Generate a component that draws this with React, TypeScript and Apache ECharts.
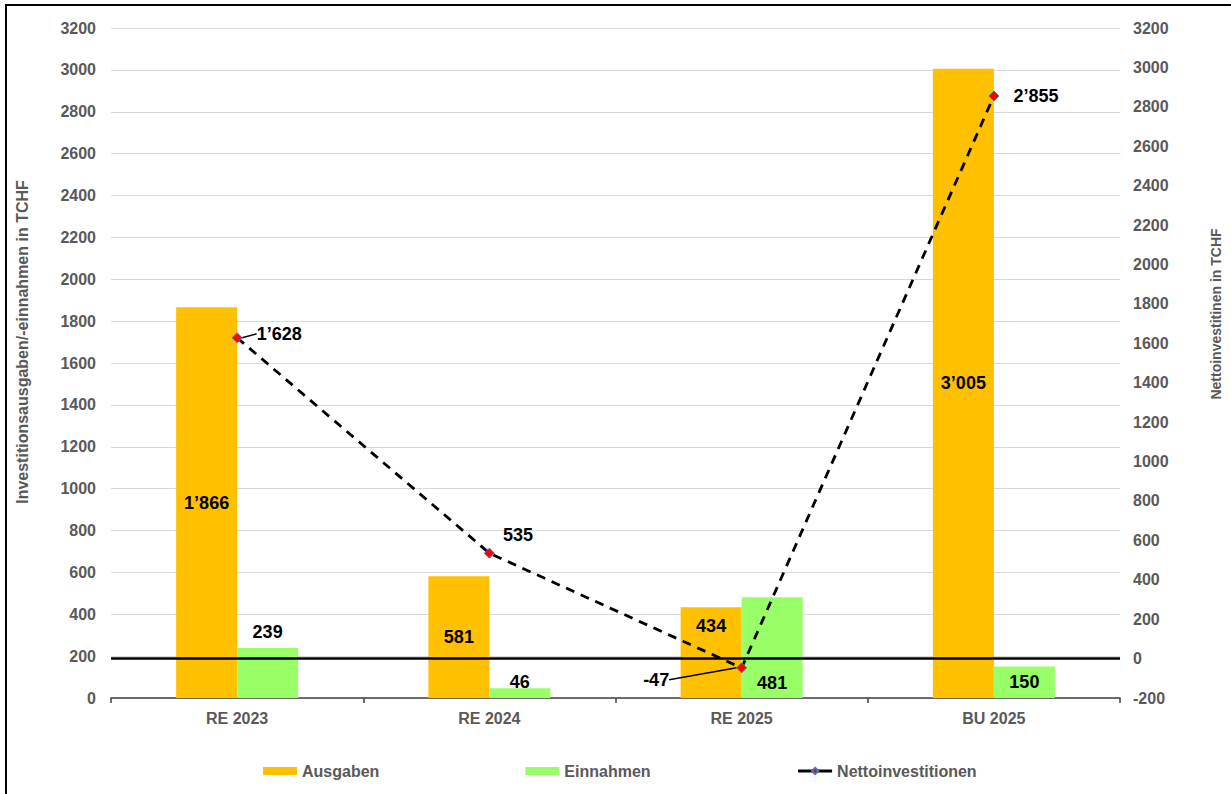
import React, { useEffect, useRef } from "react";
import * as echarts from "echarts";

const categories = ["RE 2023", "RE 2024", "RE 2025", "BU 2025"];
const ausgaben = [1866, 581, 434, 3005];
const einnahmen = [239, 46, 481, 150];
const netto = [1628, 535, -47, 2855];
const leftTicks = { min: 0, max: 3200, interval: 200 };
const rightTicks = { min: -200, max: 3200, interval: 200 };

const FONT = '"Liberation Sans", Arial, sans-serif';
const GRAY = "#595959";

function fmt(n: number): string {
  const s = Math.abs(n).toString().replace(/\B(?=(\d{3})+(?!\d))/g, "\u2019");
  return (n < 0 ? "-" : "") + s;
}

const dataLabel = {
  show: true,
  fontFamily: FONT,
  fontWeight: "bold" as const,
  fontSize: 18,
  color: "#000",
  formatter: (p: any) => fmt(p.value),
};

const ausgabenPos: any[] = [
  { position: "inside" },
  { position: "inside" },
  { position: "insideTop", distance: 10 },
  { position: "inside" },
];
const einnahmenPos: any[] = [
  { position: "top", distance: 7 },
  { position: "top", distance: -3 },
  { position: "insideBottom", distance: 6 },
  { position: "inside" },
];
const nettoLayout: any[] = [
  { dx: 9, dy: -4 },
  { dx: 3, dy: -18 },
  { dx: -109, dy: 12 },
  { dx: 9, dy: 0 },
];
const nettoLeader = [true, false, true, false];

export default function App() {
  const ref = useRef<HTMLDivElement>(null);
  useEffect(() => {
    if (!ref.current) return;
    const chart = echarts.init(ref.current, undefined, { renderer: "svg" });
    chart.setOption({
      animation: false,
      backgroundColor: "#fff",
      textStyle: { fontFamily: FONT },
      grid: { left: 111, right: 109, top: 28, bottom: 96 },
      graphic: [
        {
          type: "rect",
          shape: { x: 6, y: 5, width: 1240, height: 800 },
          style: { fill: "none", stroke: "#000", lineWidth: 2 },
          silent: true,
          z: 100,
        },
      ],
      legend: {
        left: 258,
        top: 758,
        itemWidth: 34,
        itemHeight: 8,
        itemGap: 146,
        textStyle: { color: GRAY, fontWeight: "bold", fontSize: 16, fontFamily: FONT },
        data: [
          { name: "Ausgaben", icon: "rect" },
          { name: "Einnahmen", icon: "rect" },
          { name: "Nettoinvestitionen", lineStyle: { type: "solid", width: 3 } },
        ],
      },
      xAxis: {
        type: "category",
        data: categories,
        axisLine: { lineStyle: { color: "#404040", width: 1.5 } },
        axisTick: { show: true, length: 5, lineStyle: { color: "#404040", width: 1.5 } },
        axisLabel: { color: GRAY, fontWeight: "bold", fontSize: 16, margin: 12, fontFamily: FONT },
      },
      yAxis: [
        {
          type: "value",
          ...leftTicks,
          name: "Investitionsausgaben/-einnahmen in TCHF",
          nameLocation: "middle",
          nameRotate: 90,
          nameGap: 81,
          nameTextStyle: { color: GRAY, fontWeight: "bold", fontSize: 16, fontFamily: FONT, padding: [0, 0, 0, 42] },
          axisLine: { show: false },
          axisTick: { show: false },
          axisLabel: {
            color: GRAY,
            fontWeight: "bold",
            fontSize: 16,
            margin: 15,
            fontFamily: FONT,
            formatter: (v: number) => String(v),
          },
          splitLine: { show: true, lineStyle: { color: "#d9d9d9", width: 1 } },
        },
        {
          type: "value",
          ...rightTicks,
          position: "right",
          name: "Nettoinvestitinen in TCHF",
          nameLocation: "middle",
          nameRotate: 90,
          nameGap: 89,
          nameTextStyle: { color: GRAY, fontWeight: "bold", fontSize: 14, fontFamily: FONT, padding: [0, 0, 0, 98] },
          axisLine: { show: false },
          axisTick: { show: false },
          axisLabel: {
            color: GRAY,
            fontWeight: "bold",
            fontSize: 16,
            margin: 13,
            fontFamily: FONT,
            formatter: (v: number) => String(v),
          },
          splitLine: { show: false },
        },
      ],
      series: [
        {
          name: "Ausgaben",
          type: "bar",
          yAxisIndex: 0,
          barWidth: 61,
          barGap: "0%",
          itemStyle: { color: "#FFC000" },
          data: ausgaben.map((v, i) => ({ value: v, label: { ...dataLabel, ...ausgabenPos[i] } })),
          label: dataLabel,
        },
        {
          name: "Einnahmen",
          type: "bar",
          yAxisIndex: 0,
          barWidth: 61,
          barGap: "0%",
          itemStyle: { color: "#99FF66" },
          data: einnahmen.map((v, i) => ({ value: v, label: { ...dataLabel, ...einnahmenPos[i] } })),
          label: dataLabel,
        },
        {
          name: "Nettoinvestitionen",
          type: "line",
          yAxisIndex: 1,
          z: 5,
          symbol: "diamond",
          symbolSize: 10,
          itemStyle: { color: "#FF0000", borderColor: "#4472C4", borderWidth: 1 },
          lineStyle: { color: "#000", width: 2.8, type: [9, 7] },
          data: netto.map((v, i) => ({
            value: v,
            labelLine: { show: nettoLeader[i], lineStyle: { color: "#000", width: 1.5 } },
          })),
          label: { ...dataLabel, position: "right", distance: 5 },
          labelLine: { show: false, lineStyle: { color: "#000", width: 1.5 } },
          labelLayout: (p: any) => nettoLayout[p.dataIndex],
          markLine: {
            silent: true,
            symbol: "none",
            label: { show: false },
            lineStyle: { color: "#000", width: 2.5, type: "solid" },
            data: [{ yAxis: 0 }],
          },
        },
      ],
    });
    return () => chart.dispose();
  }, []);
  return <div ref={ref} style={{ position: "fixed", left: 0, top: 0, width: 1231, height: 794 }} />;
}
